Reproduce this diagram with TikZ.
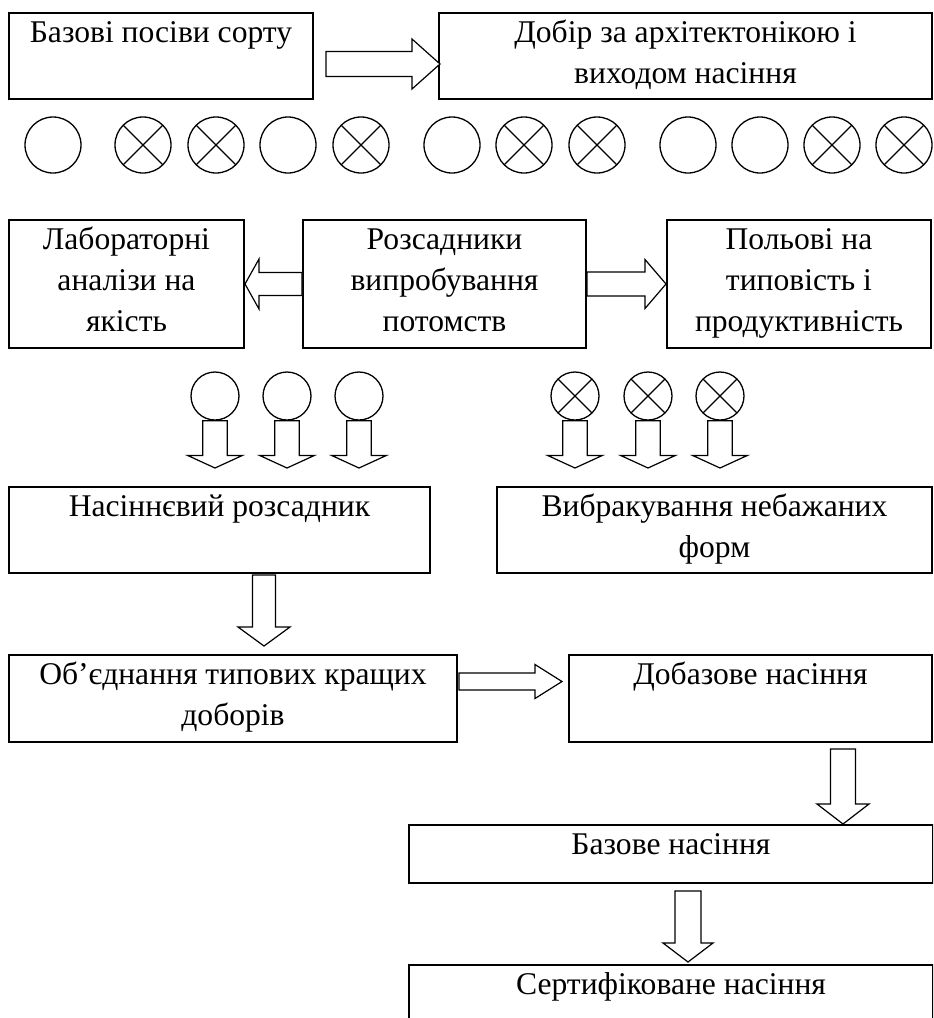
\documentclass[tikz,border=0pt]{standalone}
\usepackage{fontspec}
\setmainfont{Liberation Serif}
\usetikzlibrary{calc}

% text set at the top of a box of given width and height
\newcommand{\blocktext}[3]{%
  \parbox[c][#2][t]{#1}{\fontsize{15.8}{20.5}\selectfont\centering\rule{0pt}{14.75pt}#3}}
% hollow block arrow: start, tip, shaft half width, head half width, head length
\newcommand{\fatarrow}[5]{%
  \coordinate (fa0) at #1;
  \coordinate (fa1) at #2;
  \coordinate (fa2) at ($(fa1)!#5!(fa0)$);
  \draw[fat] ($(fa0)!#3!90:(fa1)$) -- ($(fa2)!#3!90:(fa1)$) -- ($(fa2)!#4!90:(fa1)$) -- (fa1)
    -- ($(fa2)!#4!-90:(fa1)$) -- ($(fa2)!#3!-90:(fa1)$) -- ($(fa0)!#3!-90:(fa1)$) -- cycle;}

\begin{document}
\begin{tikzpicture}[x=0.5pt,y=-0.5pt,
  block/.style={draw,line width=1pt,inner sep=0pt,anchor=north west},
  typical/.style={circle,draw,line width=0.65pt,minimum size=28pt,inner sep=0pt},
  offtype/.style={typical,path picture={\draw[line width=0.65pt]
    (path picture bounding box.north west) -- (path picture bounding box.south east)
    (path picture bounding box.north east) -- (path picture bounding box.south west);}},
  fat/.style={draw,line width=0.6pt,fill=white,line join=miter}]
\useasboundingbox (0,0) rectangle (933,1018);
\clip (0,0) rectangle (933,1018);
% boxes
\node[block] (base) at (8,12) {\blocktext{152pt}{43pt}{Базові посіви сорту}};
\node[block] (choice) at (438,12) {\blocktext{246.5pt}{43pt}{Добір за архітектонікою і\\виходом насіння}};
\node[block] (lab) at (8,219) {\blocktext{117.5pt}{64pt}{Лабораторні\\аналізи на\\якість}};
\node[block] (trials) at (302,219) {\blocktext{141.5pt}{64pt}{Розсадники\\випробування\\потомств}};
\node[block] (field) at (666,219) {\blocktext{132pt}{64pt}{Польові на\\типовість і\\продуктивність}};
\node[block] (seedbed) at (8,486) {\blocktext{210.5pt}{43pt}{Насіннєвий розсадник}};
\node[block] (cull) at (496,486) {\blocktext{217.5pt}{43pt}{Вибракування небажаних\\форм}};
\node[block] (merge) at (8,654) {\blocktext{224pt}{43.5pt}{Об’єднання типових кращих\\доборів}};
\node[block] (prebase) at (568,654) {\blocktext{181.5pt}{43.5pt}{Добазове насіння}};
\node[block] (basic) at (408,824) {\blocktext{262pt}{29pt}{Базове насіння}};
\node[block] (cert) at (408,964) {\blocktext{262pt}{28pt}{Сертифіковане насіння}};
% row of plants
\foreach \cx [count=\i] in {53,288,452,688,760}
  \node[typical] (t\i) at (\cx,145) {};
\foreach \cx [count=\i] in {143,216,361,524,597,832,904}
  \node[offtype] (o\i) at (\cx,145) {};
% block arrows
\fatarrow{($(base.east)+(12,8)$)}{($(choice.west)+(2,8)$)}{6.25pt}{12.5pt}{14pt}
\fatarrow{(trials.west)}{(lab.east)}{5.75pt}{12.5pt}{7pt}
\fatarrow{(trials.east)}{(field.west)}{6pt}{12.25pt}{10.5pt}
% progenies
\foreach \cx [count=\i] in {215,287,359}{
  \node[typical,minimum size=24pt] (g\i) at (\cx,396) {};
  \fatarrow{(g\i.south)}{($(g\i.south |- seedbed.north)+(0,-18)$)}{6.1pt}{13.75pt}{6.3pt}
}
\foreach \cx [count=\i] in {575,648,720}{
  \node[offtype,minimum size=24pt] (b\i) at (\cx,396) {};
  \fatarrow{(b\i.south)}{($(b\i.south |- cull.north)+(0,-18)$)}{6.1pt}{13.75pt}{6.3pt}
}
\coordinate (n1) at ($(seedbed.south west)+(256,1)$);
\fatarrow{(n1)}{($(n1 |- merge.north)+(0,-8)$)}{5.75pt}{13pt}{9.5pt}
\fatarrow{($(merge.east)+(1,-17)$)}{($(prebase.west)+(-6,-17)$)}{4.25pt}{8.5pt}{13.5pt}
\coordinate (n2) at ($(prebase.south east)+(-90,6)$);
\fatarrow{(n2)}{(n2 |- basic.north)}{6.25pt}{13pt}{10pt}
\coordinate (n3) at ($(basic.south)+(17,7)$);
\fatarrow{(n3)}{($(n3 |- cert.north)+(0,-2)$)}{6.5pt}{12.5pt}{9.5pt}
\end{tikzpicture}
\end{document}
